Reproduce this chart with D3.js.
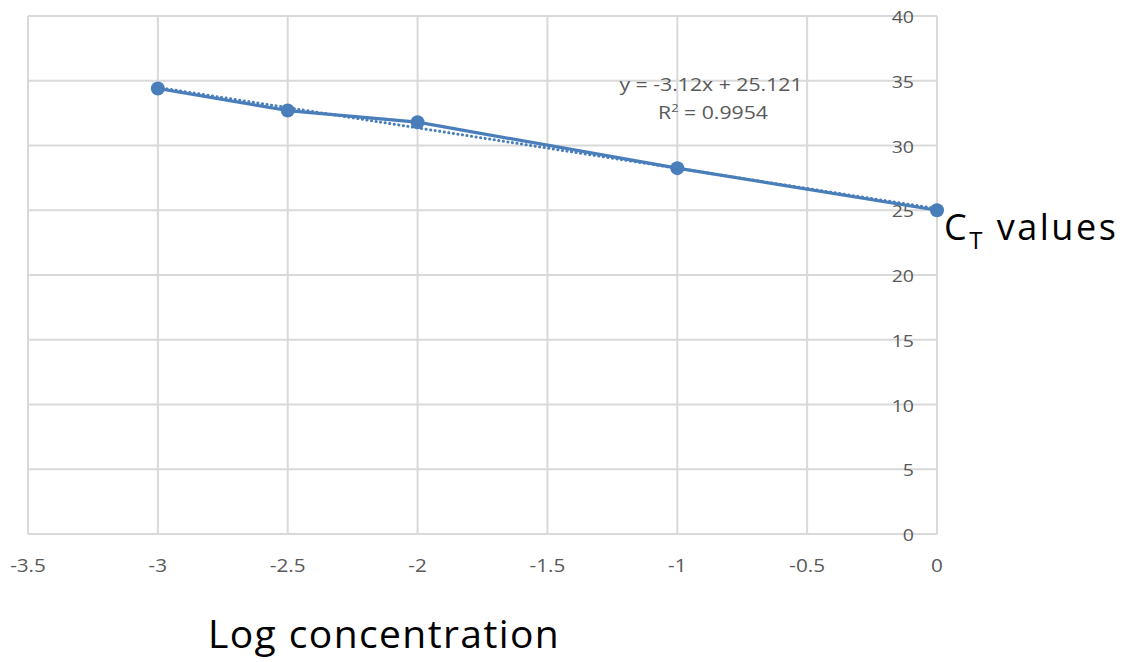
<!DOCTYPE html>
<html>
<head>
<meta charset="utf-8">
<script src="https://cdn.jsdelivr.net/npm/d3@7"></script>
<style>
  html, body { margin: 0; padding: 0; background: #fff; }
  svg { display: block; }
</style>
</head>
<body>
<svg id="chart" width="1128" height="662"></svg>
<script>
// Standard curve: Ct value against log concentration
const logConc = [-3, -2.5, -2, -1, 0];
const ctValues = [34.4, 32.7, 31.8, 28.25, 25.0];
const xTicks = [-3.5, -3, -2.5, -2, -1.5, -1, -0.5, 0];
const yTicks = [0, 5, 10, 15, 20, 25, 30, 35, 40];
const trendSlope = -3.12;
const trendIntercept = 25.121;
const rSquared = 0.9954;

const svg = d3.select("#chart");
const blue = "#4a7ebb";
const grid = "#d9d9d9";
const tickColor = "#595959";
const font = "'Open Sans', 'Noto Sans', sans-serif";
const labelStretch = 1.15;   // chart text is set slightly wide

const x = d3.scaleLinear().domain([-3.5, 0]).range([28, 937]);
const y = d3.scaleLinear().domain([0, 40]).range([534, 16]);

// Grid
svg.append("g").selectAll("line").data(yTicks).join("line")
  .attr("x1", x(-3.5)).attr("x2", x(0))
  .attr("y1", d => y(d)).attr("y2", d => y(d))
  .attr("stroke", grid).attr("stroke-width", 2);
svg.append("g").selectAll("line").data(xTicks).join("line")
  .attr("x1", d => x(d)).attr("x2", d => x(d))
  .attr("y1", y(0)).attr("y2", y(40))
  .attr("stroke", grid).attr("stroke-width", 2);

// Y tick labels sit just inside the axis at x = 0
svg.append("g").selectAll("text").data(yTicks).join("text")
  .attr("transform", d => `translate(${x(0) - 23},${y(d) + 7}) scale(${labelStretch},1)`)
  .attr("text-anchor", "end")
  .attr("font-family", font).attr("font-size", 17)
  .attr("fill", tickColor)
  .text(d => d);

// X tick labels
svg.append("g").selectAll("text").data(xTicks).join("text")
  .attr("transform", d => `translate(${x(d)},572) scale(${labelStretch},1)`)
  .attr("text-anchor", "middle")
  .attr("font-family", font).attr("font-size", 18)
  .attr("fill", tickColor)
  .text(d => d);

// Linear trendline (dotted)
const tx = d3.extent(logConc);
svg.append("line")
  .attr("x1", x(tx[0])).attr("y1", y(trendSlope * tx[0] + trendIntercept))
  .attr("x2", x(tx[1])).attr("y2", y(trendSlope * tx[1] + trendIntercept))
  .attr("stroke", blue).attr("stroke-width", 3)
  .attr("stroke-dasharray", "0.1 4.5").attr("stroke-linecap", "round");

// Data line and markers
const pts = logConc.map((v, i) => [v, ctValues[i]]);
svg.append("path")
  .attr("d", d3.line().x(d => x(d[0])).y(d => y(d[1]))(pts))
  .attr("fill", "none").attr("stroke", blue).attr("stroke-width", 3.2)
  .attr("stroke-linejoin", "round");
svg.append("g").selectAll("circle").data(pts).join("circle")
  .attr("cx", d => x(d[0])).attr("cy", d => y(d[1])).attr("r", 7)
  .attr("fill", blue);

// Trendline equation
svg.append("text")
  .attr("transform", `translate(711,91) scale(1.18,1)`)
  .attr("font-family", font).attr("font-size", 18).attr("fill", tickColor)
  .attr("text-anchor", "middle")
  .text(`y = ${trendSlope}x + ${trendIntercept}`);
const r2 = svg.append("text")
  .attr("transform", `translate(713,119) scale(1.18,1)`)
  .attr("font-family", font).attr("font-size", 18).attr("fill", tickColor)
  .attr("text-anchor", "middle");
r2.append("tspan").text("R");
r2.append("tspan").attr("dy", -7).attr("font-size", 11).text("2");
r2.append("tspan").attr("dy", 7).text(` = ${rSquared}`);

// Axis titles
svg.append("text")
  .attr("x", 208).attr("y", 648)
  .attr("font-family", font).attr("font-size", 39).attr("fill", "#000")
  .attr("letter-spacing", 1.4)
  .text("Log concentration");
const ct = svg.append("text")
  .attr("x", 944).attr("y", 240)
  .attr("font-family", font).attr("font-size", 36).attr("fill", "#000")
  .attr("letter-spacing", 2.5);
ct.append("tspan").text("C");
ct.append("tspan").attr("dy", 9).attr("font-size", 24).text("T");
ct.append("tspan").attr("dy", -9).text(" values");
</script>
</body>
</html>
